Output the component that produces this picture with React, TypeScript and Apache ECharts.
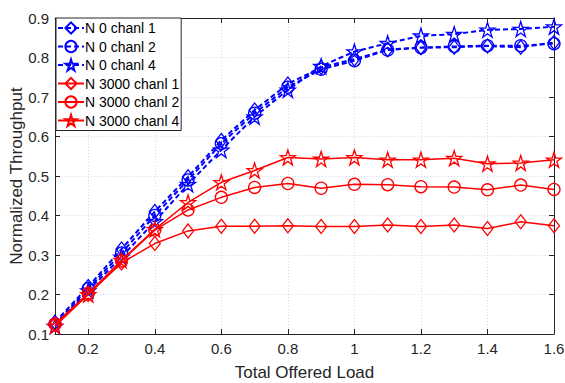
import React, { useEffect, useRef } from "react";
import * as echarts from "echarts";

const xValues = [0.1, 0.2, 0.3, 0.4, 0.5, 0.6, 0.7, 0.8, 0.9, 1.0, 1.1, 1.2, 1.3, 1.4, 1.5, 1.6];
const n0c1 = [0.13, 0.22, 0.315, 0.41, 0.498, 0.59, 0.667, 0.733, 0.775, 0.796, 0.82, 0.825, 0.826, 0.829, 0.826, 0.838];
const n0c2 = [0.125, 0.215, 0.305, 0.4, 0.49, 0.582, 0.659, 0.725, 0.77, 0.792, 0.819, 0.825, 0.828, 0.83, 0.83, 0.835];
const n0c4 = [0.12, 0.21, 0.295, 0.385, 0.479, 0.566, 0.65, 0.718, 0.778, 0.815, 0.836, 0.855, 0.859, 0.87, 0.872, 0.878];
const n3000c1 = [0.125, 0.2, 0.28, 0.329, 0.361, 0.373, 0.373, 0.374, 0.372, 0.372, 0.376, 0.372, 0.376, 0.367, 0.384, 0.374];
const n3000c2 = [0.125, 0.203, 0.285, 0.363, 0.414, 0.446, 0.471, 0.481, 0.469, 0.479, 0.478, 0.473, 0.472, 0.465, 0.477, 0.466];
const n3000c4 = [0.12, 0.2, 0.287, 0.365, 0.433, 0.484, 0.514, 0.547, 0.543, 0.547, 0.541, 0.541, 0.545, 0.531, 0.533, 0.541];
const seriesNames = ["N 0 chanl 1", "N 0 chanl 2", "N 0 chanl 4", "N 3000 chanl 1", "N 3000 chanl 2", "N 3000 chanl 4"];
const xTicks = [0.2, 0.4, 0.6, 0.8, 1.0, 1.2, 1.4, 1.6];

const STAR =
  "path://M50 0 L61.17 34.63 L97.55 34.55 L68.07 55.87 L79.39 90.45 L50 69 L20.61 90.45 L31.93 55.87 L2.45 34.55 L38.83 34.63 Z";

const FONT = "Liberation Sans, Arial, Helvetica, sans-serif";
const AXIS_COLOR = "#262626";

export default function App() {
  const ref = useRef<HTMLDivElement>(null);
  useEffect(() => {
    if (!ref.current) return;
    const chart = echarts.init(ref.current, null, { renderer: "svg" });
    const all = [n0c1, n0c2, n0c4, n3000c1, n3000c2, n3000c4];
    const symbols = ["diamond", "circle", STAR, "diamond", "circle", STAR];
    const sizes = [[11, 14], 12, 15, [11, 14], 12, 15];
    const series = all.map((vals, i) => {
      const blue = i < 3;
      const color = blue ? "#0000ff" : "#ff0000";
      return {
        name: seriesNames[i],
        type: "line",
        data: xValues.map((x, j) => [x, vals[j]]),
        symbol: symbols[i],
        symbolSize: sizes[i],
        showSymbol: true,
        itemStyle: { color: "rgba(255,255,255,0)", borderColor: color, borderWidth: 1.3 },
        lineStyle: { color, width: blue ? 2 : 1.5, type: blue ? [5, 3] : "solid" },
        emphasis: { disabled: true },
        z: blue ? 2 : 3,
      };
    });
    const commonX = {
      type: "value",
      min: 0.1,
      max: 1.6,
      axisLine: { show: true, onZero: false, lineStyle: { color: AXIS_COLOR, width: 1 } },
      axisTick: { show: true, inside: true, length: 5, customValues: xTicks, lineStyle: { color: AXIS_COLOR } },
    };
    const commonY = {
      type: "value",
      min: 0.1,
      max: 0.9,
      interval: 0.1,
      axisLine: { show: true, onZero: false, lineStyle: { color: AXIS_COLOR, width: 1 } },
      axisTick: { show: true, inside: true, length: 5, lineStyle: { color: AXIS_COLOR } },
    };
    const fmt = (v: number) => String(Math.round(v * 10) / 10);
    chart.setOption({
      animation: false,
      textStyle: { fontFamily: FONT },
      grid: { left: 55, right: 11, top: 18, bottom: 49, containLabel: false, outerBoundsMode: "none" },
      legend: {
        orient: "vertical",
        left: 56,
        top: 18,
        data: seriesNames,
        backgroundColor: "#ffffff",
        borderColor: "#262626",
        borderWidth: 1,
        borderRadius: 0,
        padding: [3, 2, 3, 1],
        itemGap: 4.5,
        itemWidth: 26,
        itemHeight: 14,
        textStyle: { fontSize: 14, color: "#000", fontFamily: FONT, padding: [0, 0, 0, -4] },
      },
      xAxis: [
        {
          ...commonX,
          position: "bottom",
          name: "Total Offered Load",
          nameLocation: "middle",
          nameGap: 30,
          nameMoveOverlap: false,
          nameTextStyle: { fontSize: 17, color: "#262626", fontFamily: FONT },
          axisLabel: { customValues: xTicks, fontSize: 15, color: "#262626", margin: 7, formatter: fmt },
          splitLine: { show: true, lineStyle: { color: "#d8d8ee", type: [1, 2], width: 1 } },
        },
        {
          ...commonX,
          position: "top",
          axisLabel: { show: false },
          splitLine: { show: false },
        },
      ],
      yAxis: [
        {
          ...commonY,
          position: "left",
          name: "Normalized Throughput",
          nameLocation: "middle",
          nameGap: 30,
          nameMoveOverlap: false,
          nameTextStyle: { fontSize: 17, color: "#262626", fontFamily: FONT },
          axisLabel: { fontSize: 15, color: "#262626", margin: 6, formatter: fmt },
          splitLine: { show: true, lineStyle: { color: "#d8d8ee", type: [1, 2], width: 1 } },
        },
        {
          ...commonY,
          position: "right",
          axisLabel: { show: false },
          splitLine: { show: false },
        },
      ],
      series,
    });
    return () => chart.dispose();
  }, []);
  return <div ref={ref} style={{ width: 565, height: 383, position: "absolute", left: 0, top: 0 }} />;
}
